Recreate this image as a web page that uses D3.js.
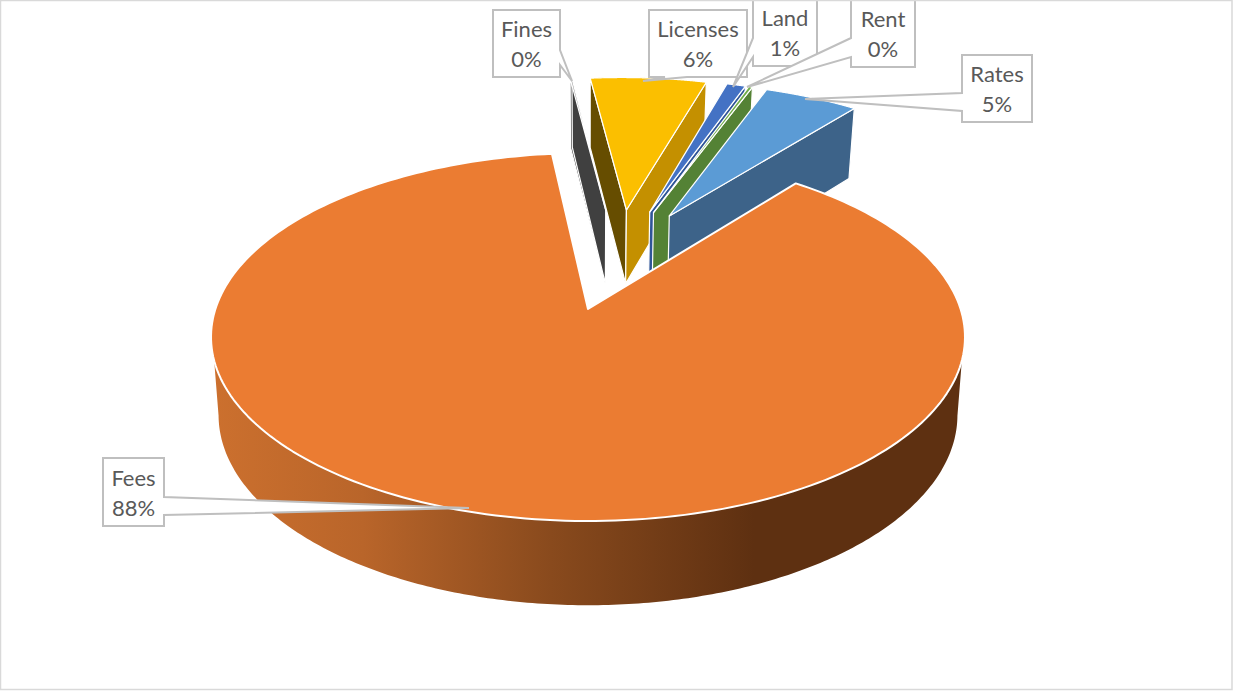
<!DOCTYPE html>
<html>
<head>
<meta charset="utf-8">
<script src="https://cdn.jsdelivr.net/npm/d3@7"></script>
<style>
  html, body { margin: 0; background: #fff; }
  svg { display: block; }
  text { font-family: Lato, "Open Sans", sans-serif; font-size: 22px; fill: #595959; text-anchor: middle; }
</style>
</head>
<body>
<svg id="chart" width="1233" height="691"></svg>
<script>
// Revenue shares, in slice order clockwise
const categories = ["Fees", "Fines", "Licenses", "Land", "Rent", "Rates"];
const shares = [87.5, 0.1, 6.2, 1.0, 0.2, 5.0];

// Slice colours: top face and the two straight cut walls
const topColors = ["#EB7C32", "#A5A5A5", "#FBBF00", "#4472C4", "#70AD47", "#5B9BD5"];
const leftWallColors = [null, "#404040", "#664D00", null, null, null];
const rightWallColors = [null, "#404040", "#C49000", "#2F5597", "#548235", "#3D6389"];

// Callout boxes and pointers, drawn in this order so later ones sit on top
const callouts = [
  { name: "Fees", box: [103, 458, 61, 68], tip: [469, 508], base: [[164, 497], [164, 515]], side: "right" },
  { name: "Fines", box: [493, 10, 67, 67], tip: [572, 81], base: [[560, 50], [560, 65]], side: "right" },
  { name: "Licenses", box: [649, 10, 98, 67], tip: [643, 81], base: [[665, 77], [687, 77]], side: "bottom" },
  { name: "Land", box: [753, -5, 64, 71], tip: [733, 87], base: [[753, 38], [753, 57]], side: "left" },
  { name: "Rent", box: [851, -5, 64, 72], tip: [747, 87], base: [[851, 38], [851, 57]], side: "left" },
  { name: "Rates", box: [962, 55, 70, 67], tip: [805, 99], base: [[962, 93], [962, 111]], side: "left" }
];

const svg = d3.select("#chart");
const defs = svg.append("defs");
const deg = Math.PI / 180;

// Pie layout, turned so the largest slice opens towards the top right
const firstAngle = 38.6 * deg;
const arcs = d3.pie().sort(null).startAngle(firstAngle).endAngle(firstAngle + 2 * Math.PI)(shares);

// Perspective ground plane: the Fees apex is the screen origin
const originX = 588, originY = 309;
const radius = 372.6, tilt = 179.8, perspective = 0.152;
const explode = 0.307;
const feesMid = (arcs[0].startAngle + arcs[0].endAngle) / 2;
const pieCentre = [-explode * Math.sin(feesMid), explode * Math.cos(feesMid)];

function project(u, v, low) {
  const s = 1 / (1 - perspective * v);
  const dx = radius * u * s, dy = tilt * v * s;
  if (!low) return [originX + dx, originY + dy];
  return [originX + dx * 0.98, originY + dy + 77 + 0.034 * dy];
}
function apex(d) {
  const mid = (d.startAngle + d.endAngle) / 2;
  return [pieCentre[0] + explode * Math.sin(mid), pieCentre[1] - explode * Math.cos(mid)];
}
function rim(d, angle, low) {
  const c = apex(d);
  return project(c[0] + Math.sin(angle), c[1] - Math.cos(angle), low);
}
const sampleAngles = (a, b) => d3.range(0, 241).map(i => a + (b - a) * i / 240);
const closed = d3.line().curve(d3.curveLinearClosed);

// Shaded outer wall of the Fees slice
const feesGrad = defs.append("linearGradient").attr("id", "feesWall")
  .attr("gradientUnits", "userSpaceOnUse")
  .attr("x1", 212).attr("x2", 965).attr("y1", 0).attr("y2", 0);
[[0, "#CC702E"], [0.2, "#B9652A"], [0.45, "#894A1D"], [0.72, "#5E3011"], [1, "#5E3011"]]
  .forEach(([o, c]) => feesGrad.append("stop").attr("offset", o).attr("stop-color", c));

// Exploded small slices, back to front
arcs.slice(1).forEach((d, i) => {
  const k = i + 1;
  const c = apex(d);
  const a = project(c[0], c[1]), aLow = project(c[0], c[1], true);
  const wall = (angle, colour) => {
    if (!colour) return;
    svg.append("path")
      .attr("d", closed([a, rim(d, angle), rim(d, angle, true), aLow]))
      .attr("fill", colour).attr("stroke", "#fff").attr("stroke-width", 1.2).attr("stroke-linejoin", "round");
  };
  wall(d.startAngle, leftWallColors[k]);
  wall(d.endAngle, rightWallColors[k]);
  svg.append("path")
    .attr("d", closed([a, ...sampleAngles(d.startAngle, d.endAngle).map(t => rim(d, t))]))
    .attr("fill", topColors[k]).attr("stroke", "#fff").attr("stroke-width", 1.2).attr("stroke-linejoin", "round");
});

// Fees slice goes last: it overlaps the feet of the others
const fees = arcs[0];
const upperRim = sampleAngles(106 * deg, 254 * deg).map(t => rim(fees, t));
const lowerRim = sampleAngles(99 * deg, 261 * deg).map(t => rim(fees, t, true));
svg.append("path")
  .attr("d", closed([...upperRim, ...lowerRim.reverse()]))
  .attr("fill", "url(#feesWall)");
svg.append("path")
  .attr("d", closed([project(...apex(fees)), ...sampleAngles(fees.startAngle, fees.endAngle).map(t => rim(fees, t))]))
  .attr("fill", topColors[0]).attr("stroke", "#fff").attr("stroke-width", 2).attr("stroke-linejoin", "round");

// Data callouts
const pct = d3.format(".0f");
callouts.forEach(co => {
  const [x, y, w, h] = co.box;
  const r = x + w, b = y + h;
  const [p, q] = co.base;
  let pts;
  if (co.side === "left") pts = [[x, y], [r, y], [r, b], [x, b], q, co.tip, p];
  else if (co.side === "right") pts = [[x, y], [r, y], p, co.tip, q, [r, b], [x, b]];
  else pts = [[x, y], [r, y], [r, b], q, co.tip, p, [x, b]];
  svg.append("path").attr("d", closed(pts))
    .attr("fill", "#fff").attr("stroke", "#BFBFBF").attr("stroke-width", 2).attr("stroke-linejoin", "miter");
  const i = categories.indexOf(co.name);
  const cx = x + w / 2;
  svg.append("text").attr("x", cx).attr("y", b - 40).text(co.name);
  svg.append("text").attr("x", cx).attr("y", b - 10).text(pct(shares[i]) + "%");
});

// Chart frame
svg.append("rect").attr("x", 0.5).attr("y", 0.5).attr("width", 1231.5).attr("height", 689)
  .attr("fill", "none").attr("stroke", "#D9D9D9").attr("stroke-width", 1.5);
</script>
</body>
</html>
